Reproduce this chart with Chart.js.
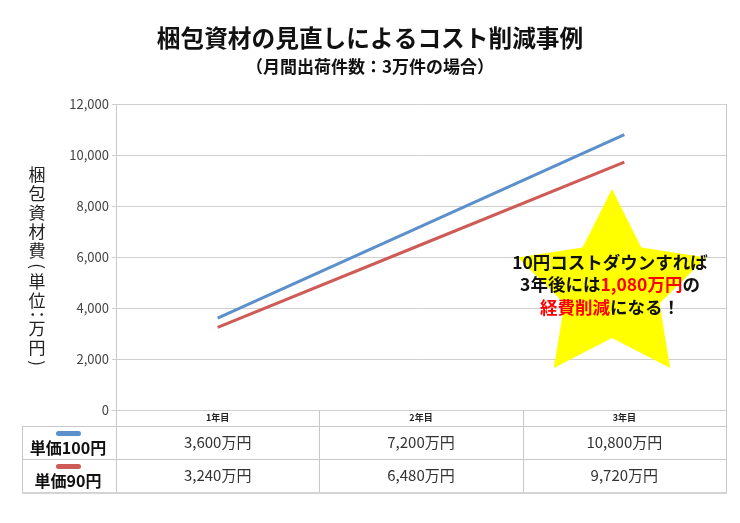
<!DOCTYPE html>
<html lang="ja">
<head>
<meta charset="utf-8">
<script src="https://cdn.jsdelivr.net/npm/chart.js@4/dist/chart.umd.min.js"></script>
<style>
  body { margin: 0; background: #fff; }
</style>
</head>
<body>
<canvas id="chartCosto" width="740" height="523"></canvas>
<script>
// datos del grafico
const categories = ['1年目', '2年目', '3年目'];
const seriesNames = ['単価100円', '単価90円'];
const price100 = [3600, 7200, 10800];
const price90 = [3240, 6480, 9720];
const seriesColors = ['#5b90cc', '#cf5b57'];
const yMin = 0, yMax = 12000, yStep = 2000;

const titleText = '梱包資材の見直しによるコスト削減事例';
const subtitleText = '（月間出荷件数：3万件の場合）';
const yAxisTitle = '梱包資材費(単位：万円)';

const FONT = '"Noto Sans CJK JP", "Noto Sans", sans-serif';

function fmt(v) {
    return v.toString().replace(/\B(?=(\d{3})+(?!\d))/g, ',');
}

// titulos, eje vertical, tabla y estrella
const extras = {
    id: 'extras',
    afterDraw(chart) {
        const ctx = chart.ctx;
        const area = chart.chartArea;
        const x = chart.scales.x;
        ctx.save();

        // titulo
        ctx.fillStyle = '#111';
        ctx.textAlign = 'center';
        ctx.textBaseline = 'middle';
        ctx.font = 'bold 23.7px ' + FONT;
        ctx.fillText(titleText, 370, 38);
        ctx.font = 'bold 17px ' + FONT;
        ctx.fillText(subtitleText, 370, 67);

        // titulo eje Y (vertical)
        ctx.font = '17px ' + FONT;
        ctx.fillStyle = '#222';
        let cy = 165;
        for (const ch of yAxisTitle) {
            const rot = '()（）:：'.includes(ch);
            const adv = rot ? (ch === ':' || ch === '：' ? 9 : 12) : 19;
            ctx.save();
            ctx.translate(37, cy + adv / 2);
            if (rot) ctx.rotate(Math.PI / 2);
            ctx.fillText(ch, 0, 0);
            ctx.restore();
            cy += adv;
        }

        // tabla
        const n = categories.length;
        const colW = (area.right - area.left) / n;
        const headBottom = area.bottom + 16;
        const row1 = headBottom + 33;
        const row2 = row1 + 33;
        const leftX = 22;
        ctx.strokeStyle = '#c8c8c8';
        ctx.lineWidth = 1;
        ctx.beginPath();
        // verticales
        ctx.moveTo(leftX + 0.5, headBottom); ctx.lineTo(leftX + 0.5, row2);
        for (let i = 0; i <= n; i++) {
            const px = Math.round(area.left + i * colW) + 0.5;
            ctx.moveTo(px, i === n ? area.top : area.bottom);
            ctx.lineTo(px, row2);
        }
        // horizontales
        ctx.moveTo(leftX, headBottom + 0.5); ctx.lineTo(area.right, headBottom + 0.5);
        ctx.moveTo(leftX, row1 + 0.5); ctx.lineTo(area.right, row1 + 0.5);
        ctx.stroke();
        ctx.strokeStyle = '#d4d4d4';
        ctx.lineWidth = 2;
        ctx.beginPath();
        ctx.moveTo(leftX, row2 + 1); ctx.lineTo(area.right + 1, row2 + 1);
        ctx.stroke();

        // encabezados
        ctx.fillStyle = '#222';
        ctx.font = 'bold 9px ' + FONT;
        categories.forEach((c, i) => {
            ctx.fillText(c, x.getPixelForValue(i), area.bottom + 8);
        });

        // filas
        const rows = [price100, price90];
        const rowTops = [headBottom, row1];
        rows.forEach((vals, r) => {
            const mid = rowTops[r] + 16.5;
            ctx.fillStyle = seriesColors[r];
            ctx.beginPath();
            ctx.roundRect(56, rowTops[r] + 5, 25, 5, 2.5);
            ctx.fill();
            ctx.fillStyle = '#111';
            ctx.font = 'bold 16px ' + FONT;
            ctx.fillText(seriesNames[r], 68, rowTops[r] + 22);
            ctx.fillStyle = '#333';
            ctx.font = '15px ' + FONT;
            vals.forEach((v, i) => {
                ctx.fillText(fmt(v) + '万円', x.getPixelForValue(i), mid);
            });
        });

        // estrella
        const sx = 612, sy = 288, R = 99, rIn = 50;
        ctx.fillStyle = '#ffff00';
        ctx.beginPath();
        for (let k = 0; k < 10; k++) {
            const ang = -Math.PI / 2 + k * Math.PI / 5;
            const rad = k % 2 === 0 ? R : rIn;
            const px = sx + rad * Math.cos(ang), py = sy + rad * Math.sin(ang);
            if (k === 0) ctx.moveTo(px, py); else ctx.lineTo(px, py);
        }
        ctx.closePath();
        ctx.fill();

        // texto de la estrella
        ctx.font = 'bold 17.5px ' + FONT;
        const lines = [
            [['10円コストダウンすれば', '#111']],
            [['3年後には', '#111'], ['1,080万円', '#ff0000'], ['の', '#111']],
            [['経費削減', '#ff0000'], ['になる！', '#111']]
        ];
        const ys = [262, 284, 307];
        ctx.textAlign = 'left';
        lines.forEach((parts, li) => {
            const total = parts.reduce((s, p) => s + ctx.measureText(p[0]).width, 0);
            let px = 610 - total / 2;
            parts.forEach(p => {
                ctx.fillStyle = p[1];
                ctx.fillText(p[0], px, ys[li]);
                px += ctx.measureText(p[0]).width;
            });
        });

        ctx.restore();
    }
};

const ctx = document.getElementById('chartCosto').getContext('2d');
const chart = new Chart(ctx, {
    type: 'line',
    data: {
        labels: categories,
        datasets: [{
            label: seriesNames[0],
            data: price100,
            borderColor: seriesColors[0],
            backgroundColor: seriesColors[0],
            borderWidth: 3,
            pointRadius: 0,
            tension: 0
        }, {
            label: seriesNames[1],
            data: price90,
            borderColor: seriesColors[1],
            backgroundColor: seriesColors[1],
            borderWidth: 3,
            pointRadius: 0,
            tension: 0
        }]
    },
    options: {
        responsive: false,
        animation: false,
        layout: {
            padding: { top: 104, right: 14, bottom: 113, left: 0 }
        },
        plugins: {
            legend: { display: false },
            title: { display: false },
            tooltip: { enabled: false }
        },
        scales: {
            x: {
                display: false,
                offset: true
            },
            y: {
                min: yMin,
                max: yMax,
                afterFit: function (scale) { scale.width = 116; },
                ticks: {
                    stepSize: yStep,
                    color: '#444',
                    padding: 3,
                    font: { family: FONT, size: 13 },
                    callback: function (v) { return fmt(v); }
                },
                grid: {
                    color: '#cfcfcf',
                    tickLength: 4
                },
                border: { color: '#c8c8c8' }
            }
        }
    },
    plugins: [extras]
});
</script>
</body>
</html>
